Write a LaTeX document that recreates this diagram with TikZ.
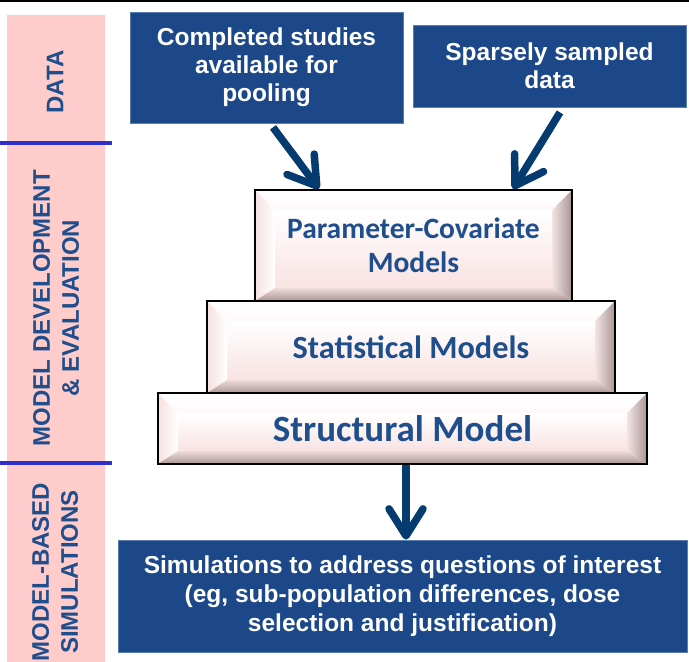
\documentclass[tikz,border=0pt]{standalone}
\usepackage{fontspec}
\setmainfont{Liberation Sans}
\newfontfamily\calfont{Carlito}
\usetikzlibrary{arrows.meta,calc}
\definecolor{boxblue}{HTML}{1C4788}
\definecolor{boxedge}{HTML}{5A7DB0}
\definecolor{labblue}{HTML}{1F4E8C}
\definecolor{arrblue}{HTML}{053B6E}
\definecolor{bandpink}{HTML}{FFCCCC}
\definecolor{sepblue}{HTML}{3030CC}
\definecolor{facebot}{HTML}{F9E2E2}
\definecolor{leftout}{HTML}{F6E0E0}
\definecolor{rightin}{HTML}{F4E4E4}
\definecolor{rightout}{HTML}{A89494}
\definecolor{botin}{HTML}{EFDADA}
\definecolor{botout}{HTML}{AC9696}
\tikzset{
  bluebox/.style={fill=boxblue, draw=boxedge, line width=0.8pt, text=white, align=center,
    inner sep=0pt, font=\bfseries\fontsize{24.5}{28}\selectfont},
  sidelabel/.style={rotate=90, text=labblue, align=center, inner sep=0pt,
    font=\bfseries\fontsize{24}{29}\selectfont},
  layer/.style={draw=black, line width=2.2pt, inner sep=0pt, align=center, text=labblue,
    path picture={
      \coordinate (pnw) at (path picture bounding box.north west);
      \coordinate (pne) at (path picture bounding box.north east);
      \coordinate (psw) at (path picture bounding box.south west);
      \coordinate (pse) at (path picture bounding box.south east);
      \coordinate (inw) at ([xshift=20pt,yshift=-20pt]pnw);
      \coordinate (ine) at ([xshift=-20pt,yshift=-20pt]pne);
      \coordinate (isw) at ([xshift=20pt,yshift=13pt]psw);
      \coordinate (ise) at ([xshift=-20pt,yshift=13pt]pse);
      \shade[top color=white, bottom color=facebot] (inw) rectangle (ise);
      \shade[top color=white, bottom color=white!80!facebot] (pnw) -- (pne) -- (ine) -- (inw) -- cycle;
      \shade[left color=leftout, right color=white] (pnw) -- (inw) -- (isw) -- (psw) -- cycle;
      \shade[left color=rightin, right color=rightout] (pne) -- (pse) -- (ise) -- (ine) -- cycle;
      \shade[top color=botin, bottom color=botout] (psw) -- (isw) -- (ise) -- (pse) -- cycle;
    }},
  flow/.style={draw=arrblue, line width=7.5pt,
    -{Straight Barb[length=27pt, width=34pt, round, line width=7.5pt]}}
}
\begin{document}
\begin{tikzpicture}[x=1pt,y=-1pt]
\useasboundingbox (0,0) rectangle (689,662);
% top rule
\draw[line width=2pt] (0,1) -- (689,1);
% left band
\fill[bandpink] (7,15) rectangle (105,662);
\draw[sepblue, line width=3.2pt] (0,143) -- (112,143);
\draw[sepblue, line width=3.2pt] (0,463) -- (112,463);
\node[sidelabel] (ldata) at (55,82) {DATA};
\node[sidelabel] (ldev) at (56,308) {MODEL DEVELOPMENT\\ \& EVALUATION};
\node[sidelabel] (lsim) at (55,572) {MODEL-BASED\\SIMULATIONS};
% data boxes
\node[bluebox, minimum width=273pt, minimum height=111pt] (b1) at (266.5,67.5)
  {Completed studies\\available for\\pooling};
\node[bluebox, minimum width=273pt, minimum height=82pt] (b2) at (549.5,66)
  {Sparsely sampled\\data};
% pyramid layers
\node[layer, minimum width=489pt, minimum height=71pt,
  font=\calfont\bfseries\fontsize{37}{40}\selectfont] (L3) at (402.5,428.5) {Structural Model};
\node[layer, minimum width=408pt, minimum height=92pt,
  font=\calfont\bfseries\fontsize{32.3}{36}\selectfont] (L2) at (411,347) {Statistical Models};
\node[layer, minimum width=317pt, minimum height=111pt,
  font=\calfont\bfseries\fontsize{29.5}{34}\selectfont] (L1) at (413.5,245.5) {Parameter-Covariate\\Models};
% simulations box
\node[bluebox, minimum width=569pt, minimum height=112pt,
  font=\bfseries\fontsize{24.5}{29}\selectfont] (b3) at (402.5,596)
  {Simulations to address questions of interest\\(eg, sub-population differences, dose\\selection and justification)};
% arrows
\coordinate (a1s) at ([xshift=6.5pt,yshift=-4pt]b1.south);
\coordinate (a1e) at ([xshift=-94.5pt]L1.north);
\coordinate (a2s) at ([xshift=10.5pt,yshift=-5pt]b2.south);
\coordinate (a2e) at ([xshift=99.5pt]L1.north);
\coordinate (a3s) at ([xshift=3.5pt]L3.south);
\draw[flow] (a1s) -- (a1e);
\draw[flow] (a2s) -- (a2e);
\draw[flow] (a3s) -- (a3s |- b3.north);
\end{tikzpicture}
\end{document}
